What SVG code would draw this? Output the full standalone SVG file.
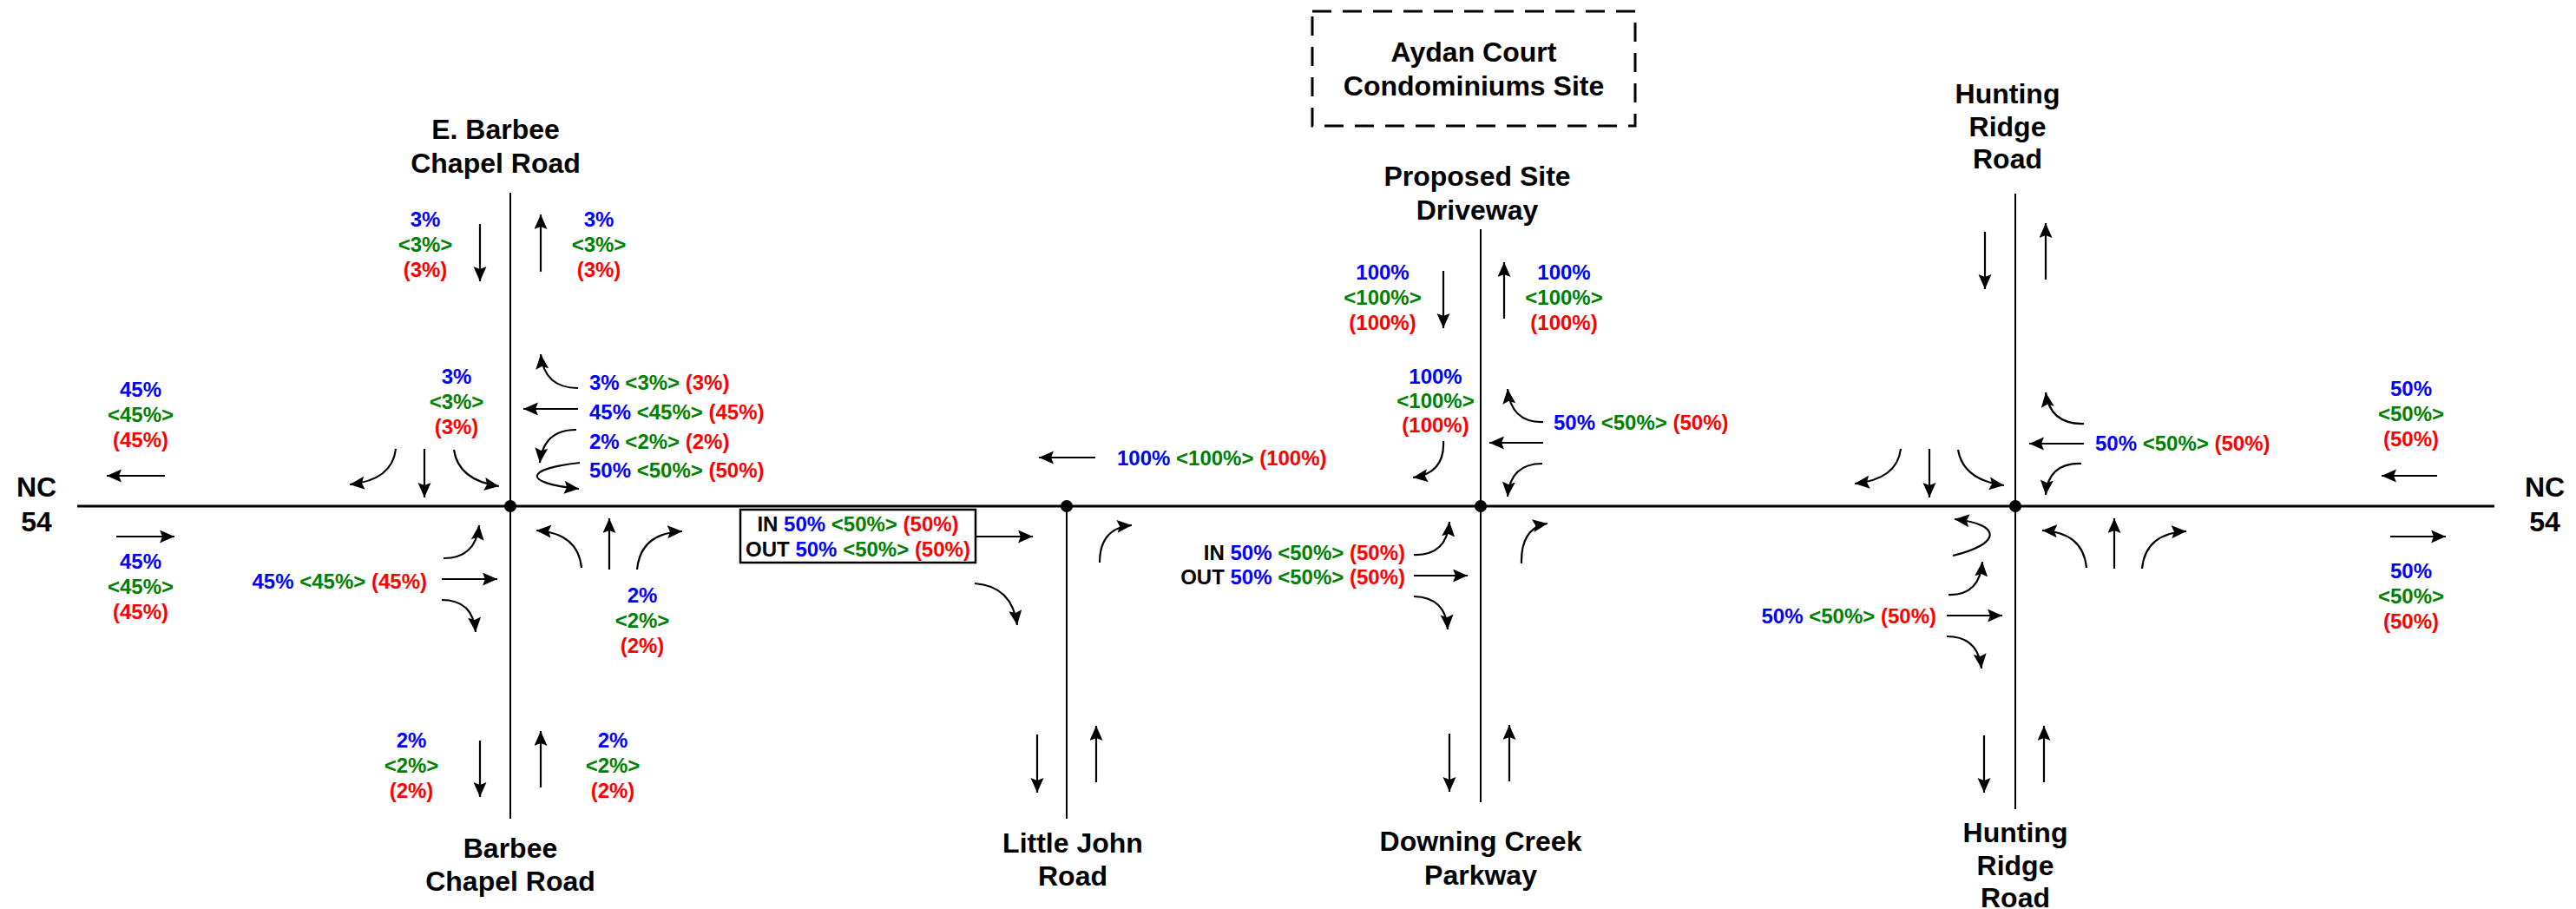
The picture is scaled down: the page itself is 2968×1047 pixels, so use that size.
<svg xmlns="http://www.w3.org/2000/svg" width="2968" height="1047" viewBox="0 0 2968 1047">
<defs>
<marker id="ah" markerUnits="userSpaceOnUse" markerWidth="19" markerHeight="17" refX="17" refY="7.5" orient="auto">
<path d="M0,0 L17,7.5 L0,15 L3,7.5 z" fill="#000"/>
</marker>
<style>
.t{font-family:"Liberation Sans",Arial,sans-serif;font-weight:bold;font-size:32px;text-anchor:middle;fill:#000}
.l{font-family:"Liberation Sans",Arial,sans-serif;font-weight:bold;font-size:24px;fill:#000}
.m{text-anchor:middle}
.e{text-anchor:end}
.b{fill:#0000FF}
.g{fill:#008000}
.r{fill:#FF0000}
.a{fill:none;stroke:#000;stroke-width:2.2;marker-end:url(#ah)}
.rd{stroke:#000;stroke-width:3;fill:none}
.sd{stroke:#000;stroke-width:2;fill:none}
</style>
</defs>
<rect width="2968" height="1047" fill="#fff"/>

<g id="roads">
<line class="rd" x1="89" y1="583" x2="2874" y2="583"/>
<line class="sd" x1="588" y1="222" x2="588" y2="943"/>
<line class="sd" x1="1229" y1="583" x2="1229" y2="943"/>
<line class="sd" x1="1706" y1="264" x2="1706" y2="924"/>
<line class="sd" x1="2322" y1="223" x2="2322" y2="932"/>
<circle cx="588" cy="583" r="7"/>
<circle cx="1229" cy="583" r="7"/>
<circle cx="1706" cy="583" r="7"/>
<circle cx="2322" cy="583" r="7"/>
</g>

<g id="site">
<rect x="1512" y="13" width="372" height="132" fill="none" stroke="#000" stroke-width="3" stroke-dasharray="22 13"/>
<text class="t" x="1698" y="71">Aydan Court</text>
<text class="t" x="1698" y="110">Condominiums Site</text>
</g>

<g id="nc54-west">
<text class="t" x="42" y="572">NC</text>
<text class="t" x="42" y="612">54</text>
<text class="l m" x="162" y="457"><tspan class="b">45%</tspan><tspan class="g" x="162" dy="29">&lt;45%&gt;</tspan><tspan class="r" x="162" dy="29">(45%)</tspan></text>
<text class="l m" x="162" y="655"><tspan class="b">45%</tspan><tspan class="g" x="162" dy="29">&lt;45%&gt;</tspan><tspan class="r" x="162" dy="29">(45%)</tspan></text>
</g>

<g id="barbee">
<text class="t" x="571" y="160">E. Barbee</text>
<text class="t" x="571" y="199">Chapel Road</text>
<text class="t" x="588" y="988">Barbee</text>
<text class="t" x="588" y="1026">Chapel Road</text>
<text class="l m" x="490" y="261"><tspan class="b">3%</tspan><tspan class="g" x="490" dy="29">&lt;3%&gt;</tspan><tspan class="r" x="490" dy="29">(3%)</tspan></text>
<text class="l m" x="690" y="261"><tspan class="b">3%</tspan><tspan class="g" x="690" dy="29">&lt;3%&gt;</tspan><tspan class="r" x="690" dy="29">(3%)</tspan></text>
<text class="l m" x="526" y="442"><tspan class="b">3%</tspan><tspan class="g" x="526" dy="29">&lt;3%&gt;</tspan><tspan class="r" x="526" dy="29">(3%)</tspan></text>
<text class="l" x="679" y="449"><tspan class="b">3%</tspan> <tspan class="g">&lt;3%&gt;</tspan> <tspan class="r">(3%)</tspan></text>
<text class="l" x="679" y="483"><tspan class="b">45%</tspan> <tspan class="g">&lt;45%&gt;</tspan> <tspan class="r">(45%)</tspan></text>
<text class="l" x="679" y="517"><tspan class="b">2%</tspan> <tspan class="g">&lt;2%&gt;</tspan> <tspan class="r">(2%)</tspan></text>
<text class="l" x="679" y="550"><tspan class="b">50%</tspan> <tspan class="g">&lt;50%&gt;</tspan> <tspan class="r">(50%)</tspan></text>
<text class="l e" x="492" y="678"><tspan class="b">45%</tspan> <tspan class="g">&lt;45%&gt;</tspan> <tspan class="r">(45%)</tspan></text>
<text class="l m" x="740" y="694"><tspan class="b">2%</tspan><tspan class="g" x="740" dy="29">&lt;2%&gt;</tspan><tspan class="r" x="740" dy="29">(2%)</tspan></text>
<text class="l m" x="474" y="861"><tspan class="b">2%</tspan><tspan class="g" x="474" dy="29">&lt;2%&gt;</tspan><tspan class="r" x="474" dy="29">(2%)</tspan></text>
<text class="l m" x="706" y="861"><tspan class="b">2%</tspan><tspan class="g" x="706" dy="29">&lt;2%&gt;</tspan><tspan class="r" x="706" dy="29">(2%)</tspan></text>
</g>

<g id="little-john">
<text class="t" x="1236" y="982">Little John</text>
<text class="t" x="1236" y="1020">Road</text>
<rect x="853" y="587" width="271" height="61" fill="none" stroke="#000" stroke-width="2.5"/>
<text class="l m" x="988.5" y="612">IN <tspan class="b">50%</tspan> <tspan class="g">&lt;50%&gt;</tspan> <tspan class="r">(50%)</tspan></text>
<text class="l m" x="988.5" y="641">OUT <tspan class="b">50%</tspan> <tspan class="g">&lt;50%&gt;</tspan> <tspan class="r">(50%)</tspan></text>
<text class="l" x="1287" y="536"><tspan class="b">100%</tspan> <tspan class="g">&lt;100%&gt;</tspan> <tspan class="r">(100%)</tspan></text>
</g>

<g id="site-driveway">
<text class="t" x="1702" y="214">Proposed Site</text>
<text class="t" x="1702" y="253">Driveway</text>
<text class="t" x="1706" y="980">Downing Creek</text>
<text class="t" x="1706" y="1019">Parkway</text>
<text class="l m" x="1593" y="322"><tspan class="b">100%</tspan><tspan class="g" x="1593" dy="29">&lt;100%&gt;</tspan><tspan class="r" x="1593" dy="29">(100%)</tspan></text>
<text class="l m" x="1802" y="322"><tspan class="b">100%</tspan><tspan class="g" x="1802" dy="29">&lt;100%&gt;</tspan><tspan class="r" x="1802" dy="29">(100%)</tspan></text>
<text class="l m" x="1654" y="442"><tspan class="b">100%</tspan><tspan class="g" x="1654" dy="28">&lt;100%&gt;</tspan><tspan class="r" x="1654" dy="28">(100%)</tspan></text>
<text class="l" x="1790" y="495"><tspan class="b">50%</tspan> <tspan class="g">&lt;50%&gt;</tspan> <tspan class="r">(50%)</tspan></text>
<text class="l e" x="1619" y="645">IN <tspan class="b">50%</tspan> <tspan class="g">&lt;50%&gt;</tspan> <tspan class="r">(50%)</tspan></text>
<text class="l e" x="1619" y="673">OUT <tspan class="b">50%</tspan> <tspan class="g">&lt;50%&gt;</tspan> <tspan class="r">(50%)</tspan></text>
</g>

<g id="hunting-ridge">
<text class="t" x="2313" y="119">Hunting</text>
<text class="t" x="2313" y="157">Ridge</text>
<text class="t" x="2313" y="194">Road</text>
<text class="t" x="2322" y="970">Hunting</text>
<text class="t" x="2322" y="1008">Ridge</text>
<text class="t" x="2322" y="1045">Road</text>
<text class="l" x="2414" y="519"><tspan class="b">50%</tspan> <tspan class="g">&lt;50%&gt;</tspan> <tspan class="r">(50%)</tspan></text>
<text class="l e" x="2231" y="718"><tspan class="b">50%</tspan> <tspan class="g">&lt;50%&gt;</tspan> <tspan class="r">(50%)</tspan></text>
</g>

<g id="nc54-east">
<text class="t" x="2932" y="572">NC</text>
<text class="t" x="2932" y="612">54</text>
<text class="l m" x="2778" y="456"><tspan class="b">50%</tspan><tspan class="g" x="2778" dy="29">&lt;50%&gt;</tspan><tspan class="r" x="2778" dy="29">(50%)</tspan></text>
<text class="l m" x="2778" y="666"><tspan class="b">50%</tspan><tspan class="g" x="2778" dy="29">&lt;50%&gt;</tspan><tspan class="r" x="2778" dy="29">(50%)</tspan></text>
</g>

<g id="connectors">
<path class="a" d="M190,548 L123,548"/>
<path class="a" d="M134,618 L201,618"/>
<path class="a" d="M553,258 L553,324"/>
<path class="a" d="M623,313 L623,247"/>
<path class="a" d="M456,517 Q452,553 403,558"/>
<path class="a" d="M489,517 L489,573"/>
<path class="a" d="M523,518 Q528,553 575,560"/>
<path class="a" d="M666,447 Q627,447 623,408"/>
<path class="a" d="M666,471 L603,471"/>
<path class="a" d="M664,495 Q626,495 622,533"/>
<path class="a" d="M668,533 C605,540 600,556 667,563"/>
<path class="a" d="M670,654 Q666,614 618,611"/>
<path class="a" d="M702,656 L702,597"/>
<path class="a" d="M734,656 Q738,614 786,612"/>
<path class="a" d="M511,643 Q548,643 552,605"/>
<path class="a" d="M509,667 L573,667"/>
<path class="a" d="M509,691 Q545,691 548,728"/>
<path class="a" d="M553,853 L553,918"/>
<path class="a" d="M623,907 L623,842"/>
<path class="a" d="M1124,618 L1190,618"/>
<path class="a" d="M1123,672 Q1166,675 1172,720"/>
<path class="a" d="M1267,648 Q1267,608 1304,605"/>
<path class="a" d="M1195,846 L1195,913"/>
<path class="a" d="M1263,901 L1263,836"/>
<path class="a" d="M1262,527 L1197,527"/>
<path class="a" d="M1663,312 L1663,378"/>
<path class="a" d="M1733,367 L1733,302"/>
<path class="a" d="M1663,508 Q1665,545 1628,550"/>
<path class="a" d="M1778,486 Q1741,487 1737,448"/>
<path class="a" d="M1778,510 L1716,510"/>
<path class="a" d="M1777,534 Q1740,534 1737,572"/>
<path class="a" d="M1629,639 Q1667,640 1670,601"/>
<path class="a" d="M1629,663 L1691,663"/>
<path class="a" d="M1629,687 Q1666,688 1668,725"/>
<path class="a" d="M1753,649 Q1752,608 1783,603"/>
<path class="a" d="M1670,845 L1670,912"/>
<path class="a" d="M1739,900 L1739,835"/>
<path class="a" d="M2287,267 L2287,333"/>
<path class="a" d="M2357,322 L2357,257"/>
<path class="a" d="M2401,488 Q2362,489 2357,452"/>
<path class="a" d="M2401,511 L2338,511"/>
<path class="a" d="M2398,534 Q2360,533 2357,570"/>
<path class="a" d="M2190,517 Q2186,552 2137,557"/>
<path class="a" d="M2223,517 L2223,573"/>
<path class="a" d="M2256,518 Q2262,553 2309,559"/>
<path class="a" d="M2250,640 C2305,627 2308,604 2252,598"/>
<path class="a" d="M2245,685 Q2281,686 2284,647"/>
<path class="a" d="M2243,709 L2307,709"/>
<path class="a" d="M2243,733 Q2279,733 2283,770"/>
<path class="a" d="M2404,654 Q2400,613 2353,611"/>
<path class="a" d="M2436,655 L2436,597"/>
<path class="a" d="M2468,655 Q2472,614 2519,612"/>
<path class="a" d="M2286,847 L2286,913"/>
<path class="a" d="M2355,901 L2355,836"/>
<path class="a" d="M2808,548 L2744,548"/>
<path class="a" d="M2754,618 L2818,618"/>
</g>
</svg>
